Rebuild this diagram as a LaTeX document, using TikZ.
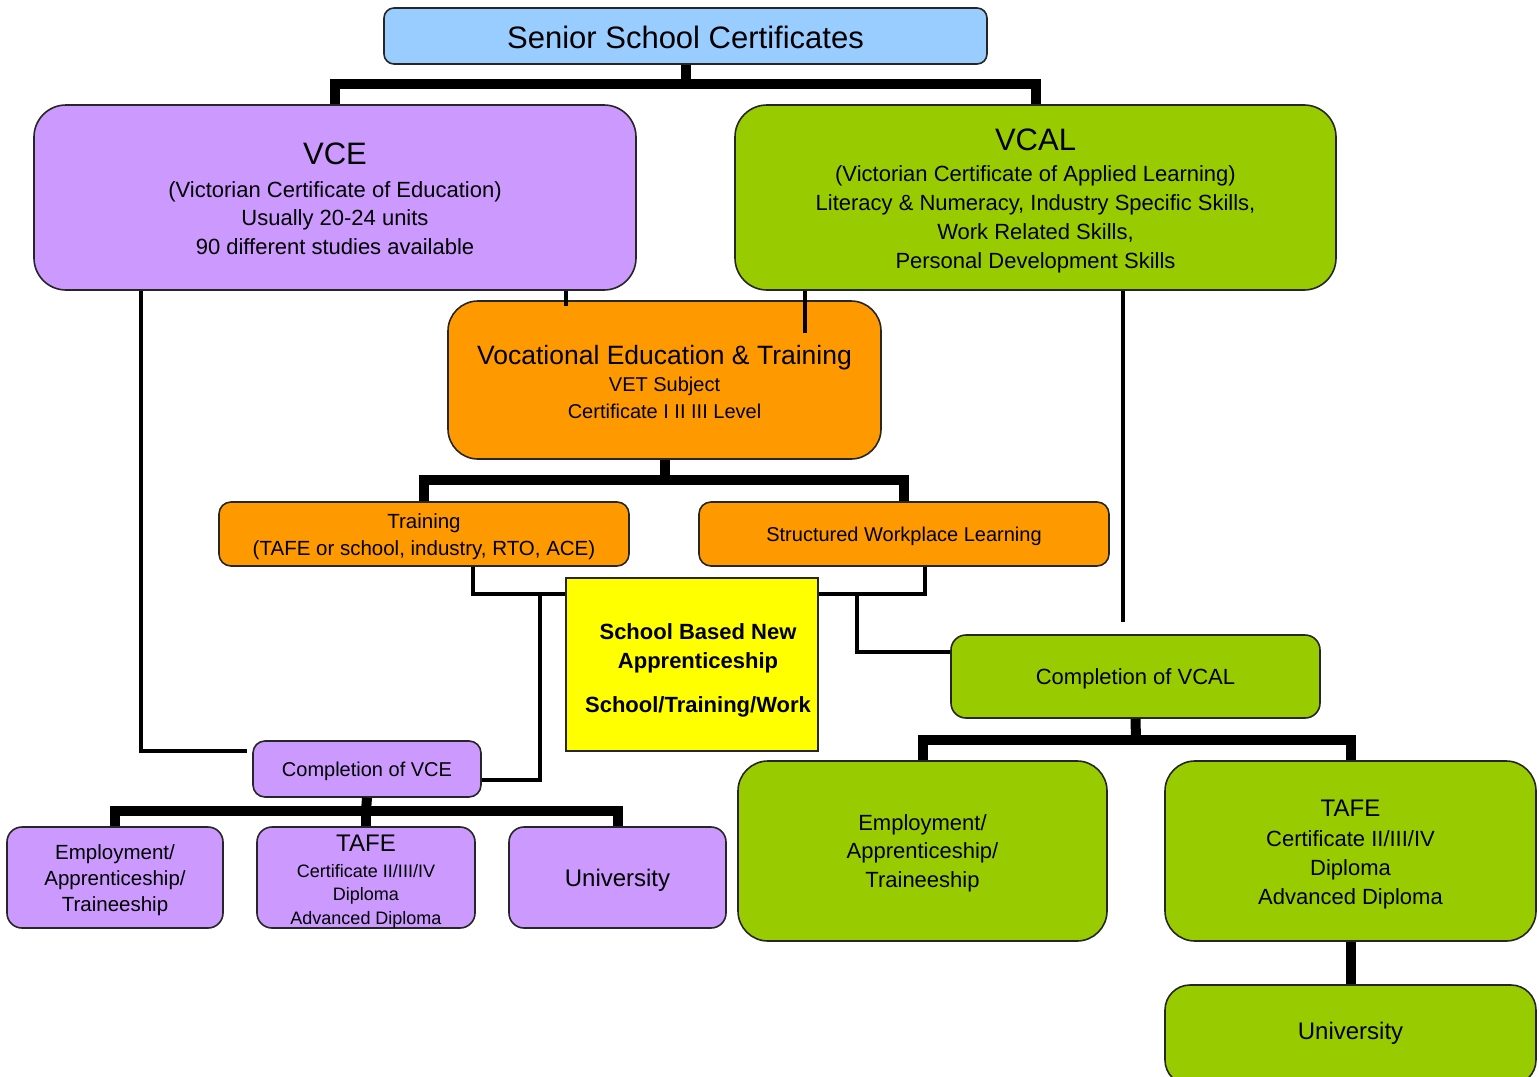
\documentclass[tikz,border=0pt]{standalone}
\usepackage{fontspec}
\setmainfont{Liberation Sans}
\newcommand{\fs}[2]{\fontsize{#1}{#2}\selectfont}
\definecolor{cblue}{HTML}{99CCFF}
\definecolor{cpurple}{HTML}{CC99FF}
\definecolor{cgreen}{HTML}{99CC00}
\definecolor{corange}{HTML}{FF9900}
\definecolor{cyellow}{HTML}{FFFF00}
\begin{document}
\begin{tikzpicture}[x=1pt,y=-1pt,
  box/.style={draw=black!85, line width=1.6pt, inner sep=0pt},
  txt/.style={inner sep=0pt, align=center, text=black},
  thk/.style={line width=10pt, line join=miter, black},
  thn/.style={line width=4.5pt, line join=miter, black}]
\useasboundingbox (0,0) rectangle (1539,1076);

% boxes
\node[box, fill=cblue, rounded corners=10pt, minimum width=603pt, minimum height=56pt] (sen) at (685.5,36) {};
\node[box, fill=cpurple, rounded corners=32pt, minimum width=602pt, minimum height=185pt] (vce) at (335,197.5) {};
\node[box, fill=cgreen, rounded corners=32pt, minimum width=601pt, minimum height=185pt] (vcal) at (1035.5,197.5) {};
\node[box, fill=corange, rounded corners=30pt, minimum width=433pt, minimum height=158pt] (vet) at (664.5,380) {};
\node[box, fill=corange, rounded corners=12pt, minimum width=410pt, minimum height=64pt] (trn) at (424,534) {};
\node[box, fill=corange, rounded corners=12pt, minimum width=410pt, minimum height=64pt] (swl) at (904,534) {};
\node[box, fill=cyellow, minimum width=252pt, minimum height=173pt] (sbna) at (692,664.5) {};
\node[box, fill=cgreen, rounded corners=15pt, minimum width=369pt, minimum height=83pt] (cvcal) at (1135.5,676.5) {};
\node[box, fill=cpurple, rounded corners=12pt, minimum width=228pt, minimum height=56pt] (cvce) at (367,769) {};
\node[box, fill=cpurple, rounded corners=15pt, minimum width=216pt, minimum height=101pt] (emp1) at (115,877.5) {};
\node[box, fill=cpurple, rounded corners=15pt, minimum width=218pt, minimum height=101pt] (tafe1) at (366,877.5) {};
\node[box, fill=cpurple, rounded corners=15pt, minimum width=217pt, minimum height=101pt] (uni1) at (617.5,877.5) {};
\node[box, fill=cgreen, rounded corners=30pt, minimum width=369pt, minimum height=180pt] (emp2) at (922.5,851) {};
\node[box, fill=cgreen, rounded corners=30pt, minimum width=371pt, minimum height=180pt] (tafe2) at (1350.5,851) {};
\node[box, fill=cgreen, rounded corners=25pt, minimum width=371pt, minimum height=100pt] (uni2) at (1350.5,1035) {};

% texts
\node[txt, font=\fs{31}{34}] (sen-t) at ([yshift=-1pt]sen.center) {Senior School Certificates};
\node[txt, font=\fs{22}{28.5}] (vce-t) at ([yshift=-1.5pt]vce.center)
  {{\fs{31}{34}VCE}\\[4pt](Victorian Certificate of Education)\\Usually 20-24 units\\90 different studies available};
\node[txt, font=\fs{22}{29}] (vcal-t) at ([yshift=-3.5pt]vcal.center)
  {{\fs{31}{34}VCAL}\\[2pt](Victorian Certificate of Applied Learning)\\Literacy \& Numeracy, Industry Specific Skills,\\Work Related Skills,\\Personal Development Skills};
\node[txt, font=\fs{20}{27}] (vet-t) at ([yshift=-2pt]vet.center)
  {{\fs{26.5}{30}Vocational Education \& Training}\\VET Subject\\Certificate I II III Level};
\node[txt, font=\fs{20.5}{27}] (trn-t) at ([yshift=-3pt]trn.center)
  {Training\\(TAFE or school, industry, RTO, ACE)};
\node[txt, font=\fs{20}{27}] (swl-t) at ([yshift=-2pt]swl.center) {Structured Workplace Learning};
\node[txt, font=\bfseries\fs{22}{29}] (sbna-t) at ([xshift=6pt,yshift=-6pt]sbna.center)
  {School Based New\\Apprenticeship\\[15pt]School/Training/Work};
\node[txt, font=\fs{22}{27}] (cvcal-t) at ([yshift=-2pt]cvcal.center) {Completion of VCAL};
\node[txt, font=\fs{20}{27}] (cvce-t) at ([yshift=-2pt]cvce.center) {Completion of VCE};
\node[txt, font=\fs{20.5}{26}] (emp1-t) at ([yshift=-3pt]emp1.center) {Employment/\\Apprenticeship/\\Traineeship};
\node[txt, font=\fs{18}{23.5}] (tafe1-t) at ([yshift=-4pt]tafe1.center)
  {{\fs{24}{26}TAFE}\\[2pt]Certificate II/III/IV\\Diploma\\Advanced Diploma};
\node[txt, font=\fs{24}{28}] (uni1-t) at ([yshift=-3pt]uni1.center) {University};
\node[txt, font=\fs{22}{28.5}] (emp2-t) at ([yshift=-2pt]emp2.center) {Employment/\\Apprenticeship/\\Traineeship};
\node[txt, font=\fs{22}{29}] (tafe2-t) at ([yshift=-4pt]tafe2.center)
  {{\fs{24}{26}TAFE}\\[1pt]Certificate II/III/IV\\Diploma\\Advanced Diploma};
\node[txt, font=\fs{24}{28}] (uni2-t) at ([yshift=2pt]uni2.center) {University};

% junction coordinates
\coordinate (j1) at (685.5,84);
\coordinate (j2) at (664.5,480);
\coordinate (j3) at (366,811);
\coordinate (j4) at (1136,740);
\coordinate (a1) at (566,306);
\coordinate (b1) at (805,333);
\coordinate (c1) at (473,594);
\coordinate (c2) at (540,594);
\coordinate (c3) at (540,780);
\coordinate (c4) at (925,594);
\coordinate (c5) at (857,594);
\coordinate (c6) at (857,652);
\coordinate (c7) at (141,751);
\coordinate (c8) at (247,751);
\coordinate (c9) at (1123,622);

% thick connectors
\draw[thk] (sen.south) -- (j1);
\draw[thk] (vce.north) |- (j1) -| (vcal.north);
\draw[thk] (vet.south) -- (j2);
\draw[thk] (trn.north) |- (j2) -| (swl.north);
\draw[thk] (cvce.south) -- (j3);
\draw[thk] (emp1.north) |- (j3) -| (uni1.north);
\draw[thk] (tafe1.north) -- (j3);
\draw[thk] (cvcal.south) -- (j4);
\draw[thk] (emp2.north) |- (j4) -| (tafe2.north);
\draw[thk] (tafe2.south) -- (uni2.north);

% thin connectors
\draw[thn] (vce.south -| a1) -- (a1);
\draw[thn] (vcal.south -| b1) -- (b1);
\draw[thn] (trn.south -| c1) -- (c1) -- (sbna.west |- c1);
\draw[thn] (c2) -- (c3) -- (cvce.east |- c3);
\draw[thn] (swl.south -| c4) -- (c4) -- (sbna.east |- c4);
\draw[thn] (c5) -- (c6) -- (cvcal.west |- c6);
\draw[thn] (vce.south -| c7) -- (c7) -- (c8);
\draw[thn] (vcal.south -| c9) -- (c9);
\end{tikzpicture}
\end{document}
